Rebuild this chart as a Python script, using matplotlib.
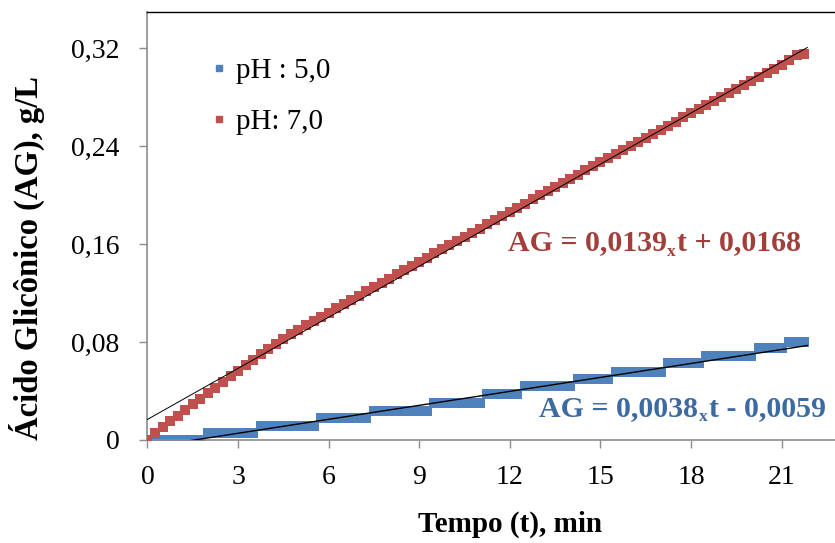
import matplotlib
matplotlib.use("Agg")
import matplotlib.pyplot as plt
from matplotlib.lines import Line2D
import numpy as np

plt.rcParams['font.family'] = ['Liberation Serif', 'DejaVu Serif']

# tempo (min), one reading every 15 s
tempo = [0.00, 0.25, 0.50, 0.75, 1.00, 1.25, 1.50, 1.75, 2.00, 2.25,
         2.50, 2.75, 3.00, 3.25, 3.50, 3.75, 4.00, 4.25, 4.50, 4.75,
         5.00, 5.25, 5.50, 5.75, 6.00, 6.25, 6.50, 6.75, 7.00, 7.25,
         7.50, 7.75, 8.00, 8.25, 8.50, 8.75, 9.00, 9.25, 9.50, 9.75,
         10.00, 10.25, 10.50, 10.75, 11.00, 11.25, 11.50, 11.75, 12.00, 12.25,
         12.50, 12.75, 13.00, 13.25, 13.50, 13.75, 14.00, 14.25, 14.50, 14.75,
         15.00, 15.25, 15.50, 15.75, 16.00, 16.25, 16.50, 16.75, 17.00, 17.25,
         17.50, 17.75, 18.00, 18.25, 18.50, 18.75, 19.00, 19.25, 19.50, 19.75,
         20.00, 20.25, 20.50, 20.75, 21.00, 21.25, 21.50, 21.75]

# acido gliconico (g/L), pH 5,0
ag_ph5 = [0, 0, 0, 0, 0, 0, 0, 0, 0.0057, 0.0057,
          0.0057, 0.0057, 0.0057, 0.0057, 0.0057, 0.0114, 0.0114, 0.0114, 0.0114, 0.0114,
          0.0114, 0.0114, 0.0114, 0.018, 0.018, 0.018, 0.018, 0.018, 0.018, 0.018,
          0.024, 0.024, 0.024, 0.024, 0.024, 0.024, 0.024, 0.024, 0.0305, 0.0305,
          0.0305, 0.0305, 0.0305, 0.0305, 0.0305, 0.0375, 0.0375, 0.0375, 0.0375, 0.0375,
          0.044, 0.044, 0.044, 0.044, 0.044, 0.044, 0.044, 0.050, 0.050, 0.050,
          0.050, 0.050, 0.0555, 0.0555, 0.0555, 0.0555, 0.0555, 0.0555, 0.0555, 0.063,
          0.063, 0.063, 0.063, 0.063, 0.0686, 0.0686, 0.0686, 0.0686, 0.0686, 0.0686,
          0.0686, 0.075, 0.075, 0.075, 0.075, 0.080, 0.080, 0.080]

# acido gliconico (g/L), pH 7,0
ag_ph7 = [0, 0.0055, 0.0105, 0.0155, 0.020, 0.0245, 0.029, 0.0335, 0.038, 0.0425,
          0.047, 0.052, 0.0565, 0.061, 0.0655, 0.070, 0.0745, 0.0785, 0.0825, 0.0862,
          0.090, 0.0936, 0.0971, 0.1005, 0.1040, 0.1075, 0.1110, 0.1144, 0.1179, 0.1214,
          0.1248, 0.1283, 0.1318, 0.1352, 0.1387, 0.1421, 0.1456, 0.1490, 0.1524, 0.1557,
          0.1591, 0.1626, 0.1660, 0.1693, 0.1727, 0.1761, 0.1795, 0.1828, 0.1862, 0.1896,
          0.1930, 0.1964, 0.1998, 0.2032, 0.2066, 0.2099, 0.2133, 0.2167, 0.2201, 0.2234,
          0.2268, 0.2302, 0.2335, 0.2368, 0.2401, 0.2435, 0.2468, 0.2501, 0.2534, 0.2568,
          0.2600, 0.2634, 0.2667, 0.2700, 0.2734, 0.2767, 0.2800, 0.2834, 0.2867, 0.2900,
          0.2933, 0.2967, 0.2999, 0.3033, 0.3066, 0.3100, 0.3140, 0.3155]

# linear fits shown on the chart
fit_ph5 = (0.0038, -0.0059)
fit_ph7 = (0.0139, 0.0168)

blue = '#4F81BD'
red = '#C0504D'

fig = plt.figure(figsize=(8.35, 5.43), dpi=100)
ax = fig.add_axes([0.1766, 0.1897, 0.868, 0.788])

ax.plot(tempo, ag_ph5, 's', color=blue, markersize=7.5, markeredgewidth=0, zorder=2)
ax.plot(tempo, ag_ph7, 's', color=red, markersize=7, markeredgewidth=0, zorder=3)

tt = np.array([tempo[0], tempo[-1] + 0.1])
ax.plot(tt, fit_ph5[0] * tt + fit_ph5[1], color='black', lw=1.0, zorder=4)
ax.plot(tt, fit_ph7[0] * tt + fit_ph7[1], color='black', lw=0.7, zorder=4)

ax.set_xlim(0, 24)
ax.set_ylim(0, 0.3494)
ax.set_xticks(range(0, 22, 3))
ax.set_yticks([0, 0.08, 0.16, 0.24, 0.32])
ax.set_yticklabels(['0', '0,08', '0,16', '0,24', '0,32'])

for s in ['left', 'bottom']:
    ax.spines[s].set_color('#8c8c8c')
    ax.spines[s].set_linewidth(1.2)
ax.spines['top'].set_color('black')
ax.spines['top'].set_linewidth(1.0)
ax.spines['right'].set_visible(False)
ax.tick_params(axis='both', direction='out', length=6, width=1, color='#8c8c8c',
               labelsize=20)
ax.tick_params(axis='y', pad=14)
ax.tick_params(axis='x', pad=12)

ax.set_xlabel('Tempo (t), min', fontsize=21, fontweight='bold', labelpad=15)
ax.set_ylabel('Ácido Glicônico (AG), g/L', fontsize=23.5, fontweight='bold')
ax.yaxis.set_label_coords(-0.142, 0.425)

handles = [Line2D([], [], marker='s', ls='', color=blue, markersize=4),
           Line2D([], [], marker='s', ls='', color=red, markersize=4)]
ax.legend(handles, ['pH : 5,0', 'pH: 7,0'], loc='upper left', bbox_to_anchor=(0.05, 0.955),
          frameon=False, fontsize=21, handlelength=0.6, handletextpad=0.3,
          labelspacing=0.85)


def equation(x, y, left, sub, right, color):
    # "AG = a" + small lowered "x" + "t + b", pieces chained one after another
    t1 = ax.text(x, y, left, color=color, fontsize=21.5, fontweight='bold', va='baseline')
    t2 = ax.annotate(sub, xy=(1, 0), xycoords=t1, xytext=(0.5, -2.5),
                     textcoords='offset points', color=color, fontsize=12.5,
                     fontweight='bold', ha='left', va='bottom')
    ax.annotate(right, xy=(1, 0), xycoords=(t2, t1), xytext=(0.5, 0),
                textcoords='offset points', color=color, fontsize=21.5,
                fontweight='bold', ha='left', va='bottom')


equation(11.93, 0.155, 'AG = 0,0139', 'x', 't + 0,0168', '#A33F3B')
equation(12.98, 0.0196, 'AG = 0,0038', 'x', 't - 0,0059', '#3E6AA2')

fig.savefig('out.png', dpi=100)
